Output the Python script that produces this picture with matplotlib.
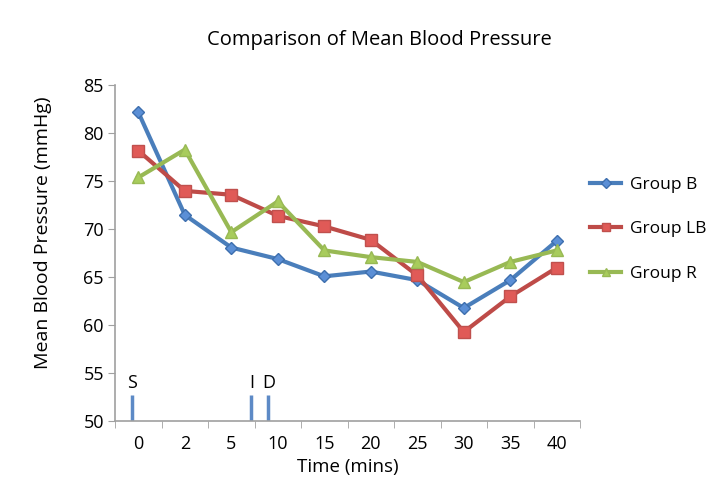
import matplotlib
matplotlib.use("Agg")
import matplotlib.pyplot as plt
import numpy as np

plt.rcParams['font.family'] = ['Open Sans', 'DejaVu Sans']

time_labels = ['0', '2', '5', '10', '15', '20', '25', '30', '35', '40']
group_b = [82.2, 71.5, 68.1, 66.9, 65.1, 65.6, 64.7, 61.8, 64.7, 68.8]
group_lb = [78.2, 74.0, 73.6, 71.4, 70.3, 68.9, 65.2, 59.3, 63.0, 66.0]
group_r = [75.4, 78.3, 69.7, 72.9, 67.8, 67.1, 66.6, 64.5, 66.6, 67.8]
event_labels = ['S', 'I', 'D']
event_pos = [-0.14, 2.43, 2.80]

fig = plt.figure(figsize=(7.1, 4.82), dpi=100)
ax = fig.add_axes([0.162, 0.126, 0.655, 0.697])
x = np.arange(len(time_labels))

ax.plot(x, group_b, color='#4A7EBB', lw=3, marker='D', ms=6.5,
        mfc='#5B8FD6', mec='#3E6FAE', label='Group B')
ax.plot(x, group_lb, color='#BE4B48', lw=3, marker='s', ms=8.5,
        mfc='#E05A57', mec='#C0504D', label='Group LB')
ax.plot(x, group_r, color='#98B954', lw=3, marker='^', ms=8.5,
        mfc='#A8CC5C', mec='#98B954', label='Group R')

for lab, p in zip(event_labels, event_pos):
    ax.plot([p, p], [50, 52.7], color='#5D8AC6', lw=2.5, solid_capstyle='butt')
    ax.text(p, 53.1, lab, ha='center', va='bottom', fontsize=13)

ax.set_xlim(-0.5, 9.5)
ax.set_ylim(50, 85)
ax.set_yticks(np.arange(50, 86, 5))
ax.set_xticks(x)
ax.set_xticklabels(time_labels)
ax.set_xticks(np.arange(-0.5, 10, 1), minor=True)
ax.tick_params(axis='x', which='major', length=0, pad=10, labelsize=13)
ax.tick_params(axis='x', which='minor', length=5, color='#A0A0A0', direction='out')
ax.tick_params(axis='y', which='major', length=5, color='#A0A0A0', labelsize=13, pad=3)

for s in ['top', 'right']:
    ax.spines[s].set_visible(False)
for s in ['left', 'bottom']:
    ax.spines[s].set_color('#A0A0A0')
    ax.spines[s].set_linewidth(1.2)

ax.set_xlabel('Time (mins)', fontsize=13.5)
ax.set_ylabel('Mean Blood Pressure (mmHg)', fontsize=14)
ax.xaxis.set_label_coords(0.5, -0.136)
ax.xaxis.label.set_va('center')
ax.yaxis.set_label_coords(-0.155, 0.56)
ax.yaxis.label.set_va('center')
fig.text(0.535, 0.917, 'Comparison of Mean Blood Pressure', ha='center', va='center', fontsize=14.5)

leg = ax.legend(loc='upper left', bbox_to_anchor=(590 / 710, 1 - 177 / 482),
                bbox_transform=fig.transFigure, frameon=False, borderpad=0,
                borderaxespad=0, fontsize=12.5, labelspacing=1.62,
                handlelength=1.8, handletextpad=0.5, markerscale=0.75)

fig.savefig('out.png', dpi=100)
